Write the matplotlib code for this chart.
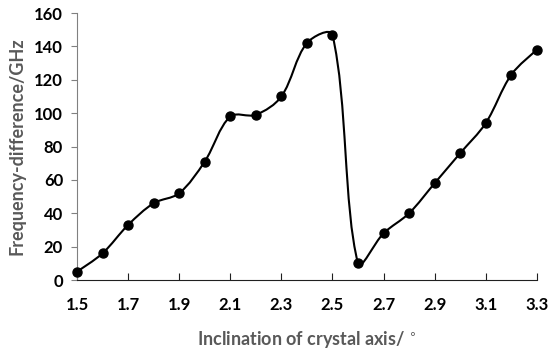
import matplotlib
matplotlib.use("Agg")
import matplotlib.pyplot as plt
from matplotlib.path import Path
from matplotlib.patches import PathPatch
import numpy as np

# data
incl = [1.5, 1.6, 1.7, 1.8, 1.9, 2.0, 2.1, 2.2, 2.3, 2.4, 2.5,
        2.6, 2.7, 2.8, 2.9, 3.0, 3.1, 3.2, 3.3]
freq_diff = [5, 16, 33, 46, 52, 71, 98, 99, 110, 142, 147,
             10, 28, 40, 58, 76, 94, 123, 138]
xticks = [1.5, 1.7, 1.9, 2.1, 2.3, 2.5, 2.7, 2.9, 3.1, 3.3]
yticks = [0, 20, 40, 60, 80, 100, 120, 140, 160]


def smooth_path(x, y, sx, sy):
    # Excel-like smoothed line: bezier, control points weighted by chord length
    x = np.asarray(x, float)
    y = np.asarray(y, float)
    n = len(x)
    # chord lengths in screen-ish units
    d = np.hypot(np.diff(x) * sx, np.diff(y) * sy)
    tx = np.zeros(n)
    ty = np.zeros(n)
    for i in range(n):
        i0 = max(i - 1, 0)
        i1 = min(i + 1, n - 1)
        tx[i] = x[i1] - x[i0]
        ty[i] = y[i1] - y[i0]
    verts = [(x[0], y[0])]
    codes = [Path.MOVETO]
    for i in range(n - 1):
        dl = d[i - 1] if i > 0 else d[i]
        f1 = d[i] / (dl + d[i]) / 3
        dr = d[i + 1] if i + 1 < n - 1 else d[i]
        f2 = d[i] / (d[i] + dr) / 3
        c1 = (x[i] + tx[i] * f1, y[i] + ty[i] * f1)
        c2 = (x[i + 1] - tx[i + 1] * f2, y[i + 1] - ty[i + 1] * f2)
        verts += [c1, c2, (x[i + 1], y[i + 1])]
        codes += [Path.CURVE4] * 3
    return Path(verts, codes)


plt.rcParams['font.family'] = ['Lato', 'DejaVu Sans']

fig = plt.figure(figsize=(5.5, 3.52), dpi=100)
ax = fig.add_axes([0.14, 0.2045, 0.836, 0.7585])

# pixel scale: 460 px over 1.8 units in x, 267 px over 160 units in y
ax.add_patch(PathPatch(smooth_path(incl, freq_diff, 460 / 1.8, 267 / 160),
                       facecolor='none', edgecolor='black', lw=1.5,
                       clip_on=False))
ax.plot(incl, freq_diff, 'o', color='black', ms=6.5, clip_on=False,
        zorder=3)

ax.set_xlim(1.5, 3.3)
ax.set_ylim(0, 160)
ax.set_xticks(xticks)
ax.set_xticklabels([f"{t:.1f}" for t in xticks], fontweight='bold')
ax.set_yticks(yticks)
ax.set_yticklabels([str(t) for t in yticks], fontweight='bold')
ax.tick_params(axis='x', direction='in', length=5, labelsize=12, pad=12,
               color='#202020')
ax.tick_params(axis='y', direction='out', length=4, labelsize=12, pad=6,
               color='#808080')

for s in ['top', 'right']:
    ax.spines[s].set_visible(False)
ax.spines['left'].set_color('#808080')
ax.spines['bottom'].set_color('#202020')

ax.set_xlabel("Inclination of crystal axis/ $^{\\circ}$", fontsize=13,
              color='#595959', fontweight='bold', labelpad=12)
ax.set_ylabel("Frequency-difference/GHz", fontsize=13, color='#595959',
              fontweight='bold', labelpad=6)

fig.savefig("out.png", dpi=100)
